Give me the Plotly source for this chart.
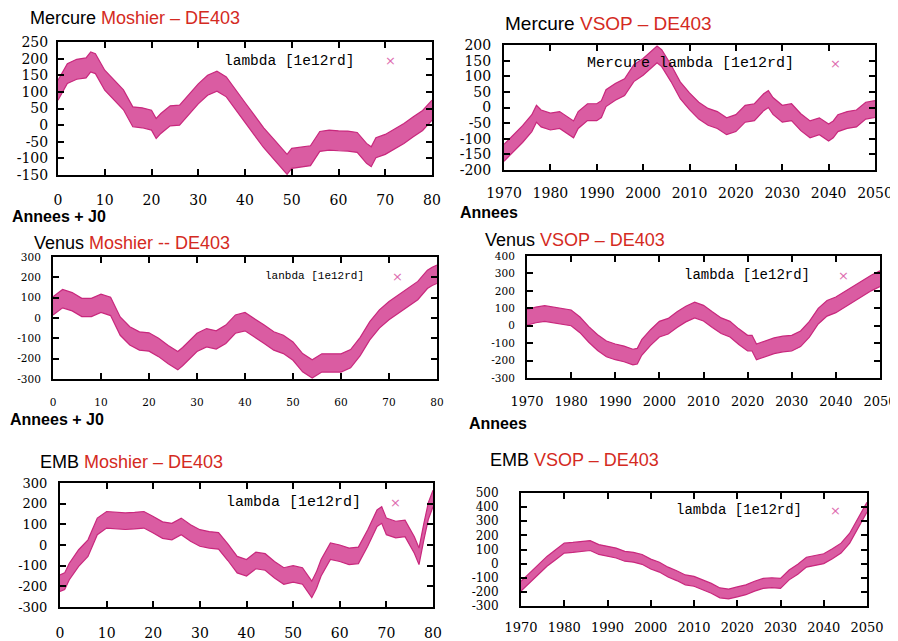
import plotly.graph_objects as go

# The page body has an 8px margin; the figure is sized so that it fills the
# visible 898x641 window exactly, and reference pixel positions are shifted.
WIN_W, WIN_H = 898, 641
OFF = 8
FW, FH = WIN_W - OFF, WIN_H - OFF


def px(x):
    return (x - OFF) / FW


def py(y):
    return 1 - (y - OFF) / FH


# ---------------- data ----------------
# Mercure, Moshier - DE403 (x = years after J0)
merc_mosh_x = [0, 2, 4, 6, 7, 8, 10, 12, 14, 16, 18, 20, 21, 22, 24, 26, 28, 30, 32, 34, 36, 38, 40,
               42, 44, 46, 48, 49, 50, 52, 54, 56, 58, 60, 62, 64, 66, 67, 68, 70, 72, 74, 76, 78, 80]
merc_mosh_y = [105, 155, 168, 172, 190, 185, 135, 105, 76, 25, 22, 15, -10, 5, 28, 30, 63, 94, 120, 132,
               115, 78, 38, 0, -38, -70, -100, -118, -100, -95, -92, -49, -45, -47, -48, -52, -85, -95,
               -68, -58, -42, -25, -5, 14, 45]
merc_mosh_hw = 30

# Mercure, VSOP - DE403 (x = years)
merc_vsop_x = [1970, 1972, 1974, 1976, 1977, 1978, 1980, 1982, 1984, 1985, 1986, 1988, 1990, 1991, 1992,
               1994, 1996, 1998, 2000, 2002, 2003, 2004, 2006, 2008, 2010, 2012, 2014, 2016, 2018, 2020,
               2022, 2024, 2026, 2027, 2028, 2030, 2032, 2034, 2036, 2038, 2040, 2041, 2042, 2044, 2046,
               2048, 2050]
merc_vsop_y = [-145, -115, -85, -50, -20, -35, -45, -40, -60, -70, -40, -15, -15, -5, 30, 50, 65, 110,
               130, 155, 170, 158, 110, 55, 20, -10, -30, -40, -60, -50, -20, -15, 17, 27, 5, -20, -15,
               -47, -70, -60, -80, -70, -50, -40, -35, -10, -5]
merc_vsop_hw = 27

# Venus, Moshier - DE403
ven_mosh_x = [0, 2, 4, 6, 8, 10, 12, 14, 16, 18, 20, 22, 24, 26, 27, 28, 30, 32, 34, 36, 38, 40, 42, 44,
              46, 48, 50, 52, 54, 56, 58, 60, 62, 64, 66, 68, 70, 72, 74, 76, 78, 79, 80]
ven_mosh_y = [60, 95, 80, 52, 52, 72, 57, -40, -88, -113, -118, -145, -180, -210, -190, -165, -120, -97,
              -108, -80, -30, -18, -47, -80, -113, -130, -163, -220, -250, -221, -221, -221, -200, -140,
              -63, -5, 36, 68, 100, 135, 190, 205, 215]
ven_mosh_hw = 45

# Venus, VSOP - DE403
ven_vsop_x = [1970, 1972, 1974, 1976, 1978, 1980, 1982, 1984, 1986, 1988, 1990, 1992, 1994, 1995, 1996,
              1998, 2000, 2002, 2004, 2006, 2008, 2010, 2012, 2014, 2016, 2018, 2020, 2021, 2022, 2024,
              2026, 2028, 2030, 2032, 2034, 2036, 2038, 2040, 2042, 2044, 2046, 2048, 2050]
ven_vsop_y = [48, 62, 70, 62, 53, 45, 5, -50, -97, -133, -150, -162, -180, -175, -125, -68, -20, -3, 35,
              67, 90, 72, 35, 0, -20, -63, -100, -100, -150, -133, -115, -105, -100, -75, -20, 55, 100,
              120, 150, 185, 215, 245, 270]
ven_vsop_hw = 45

# EMB, Moshier - DE403
emb_mosh_x = [0, 1, 2, 4, 6, 8, 10, 12, 14, 16, 18, 20, 22, 24, 26, 28, 30, 32, 34, 36, 38, 40, 42, 44,
              46, 48, 50, 52, 54, 55, 56, 58, 60, 62, 64, 66, 68, 69, 70, 72, 74, 76, 77, 78, 79, 80]
emb_mosh_y = [-185, -175, -128, -63, -15, 90, 122, 118, 115, 118, 122, 98, 72, 65, 90, 58, 34, 25, 20,
              -35, -95, -110, -75, -82, -120, -150, -140, -150, -215, -170, -110, -30, -40, -55, -50, 34,
              130, 145, 90, 75, 80, 0, -55, 60, 165, 225]
emb_mosh_hw = 40

# EMB, VSOP - DE403
emb_vsop_x = [1970, 1972, 1974, 1976, 1978, 1980, 1982, 1984, 1986, 1988, 1990, 1992, 1994, 1996, 1998,
              2000, 2002, 2004, 2006, 2008, 2010, 2012, 2014, 2016, 2018, 2020, 2022, 2024, 2026, 2028,
              2030, 2032, 2034, 2036, 2038, 2040, 2042, 2044, 2046, 2048, 2050]
emb_vsop_y = [-160, -100, -37, 16, 63, 110, 115, 120, 128, 100, 88, 75, 52, 45, 30, -3, -25, -60, -85,
              -115, -125, -150, -175, -207, -215, -200, -185, -160, -140, -135, -140, -80, -40, 10, 20,
              35, 70, 110, 180, 290, 400]
emb_vsop_hw = 35

# tick values
ticks_x_j0 = [0, 10, 20, 30, 40, 50, 60, 70, 80]
ticks_x_years = [1970, 1980, 1990, 2000, 2010, 2020, 2030, 2040, 2050]
ticks_y_merc_mosh = [-150, -100, -50, 0, 50, 100, 150, 200, 250]
ticks_y_merc_vsop = [-200, -150, -100, -50, 0, 50, 100, 150, 200]
ticks_y_ven_mosh = [-300, -200, -100, 0, 100, 200, 300]
ticks_y_ven_vsop = [-300, -200, -100, 0, 100, 200, 300, 400]
ticks_y_emb_mosh = [-300, -200, -100, 0, 100, 200, 300]
ticks_y_emb_vsop = [-300, -200, -100, 0, 100, 200, 300, 400, 500]

legend_label = "lambda [1e12rd]"

# ---------------- layout specs ----------------
RED = "#d42a22"
BAND_FILL = "rgb(218,92,162)"
BAND_LINE = "rgb(200,40,125)"
MARK = "rgb(222,110,175)"

panels = [
    dict(x=merc_mosh_x, y=merc_mosh_y, hw=merc_mosh_hw, xr=[0, 80], yr=[-150, 250],
         xt=ticks_x_j0, yt=ticks_y_merc_mosh, box=(58, 432, 42, 175),
         title=("Mercure", "Moshier – DE403"), tpos=(28, 18), tsize=18,
         leg=legend_label, lpos=(222, 61, 390), lsize=14.5,
         xfs=14, yfs=14, xso=11, yso=5, xlabel=("Annees + J0", 10, 216)),
    dict(x=merc_vsop_x, y=merc_vsop_y, hw=merc_vsop_hw, xr=[1970, 2050], yr=[-200, 200],
         xt=ticks_x_years, yt=ticks_y_merc_vsop, box=(504, 875, 45, 170),
         title=("Mercure", "VSOP – DE403"), tpos=(503, 24), tsize=19,
         leg="Mercure " + legend_label, lpos=(585, 64, 835), lsize=15,
         xfs=14, yfs=14, xso=9, yso=8, xlabel=("Annees", 458, 212)),
    dict(x=ven_mosh_x, y=ven_mosh_y, hw=ven_mosh_hw, xr=[0, 80], yr=[-300, 300],
         xt=ticks_x_j0, yt=ticks_y_ven_mosh, box=(53, 437, 257, 379),
         title=("Venus", "Moshier -- DE403"), tpos=(32, 243), tsize=18,
         leg="lanbda [1e12rd]", lpos=(263, 276, 397), lsize=11,
         xfs=10.5, yfs=10.5, xso=12, yso=8, xlabel=("Annees + J0", 8, 419)),
    dict(x=ven_vsop_x, y=ven_vsop_y, hw=ven_vsop_hw, xr=[1970, 2050], yr=[-300, 400],
         xt=ticks_x_years, yt=ticks_y_ven_vsop, box=(527, 880, 256, 378),
         title=("Venus", "VSOP – DE403"), tpos=(483, 240), tsize=18,
         leg=legend_label, lpos=(682, 275, 843), lsize=14,
         xfs=13, yfs=10.5, xso=10, yso=8, xlabel=("Annees", 467, 423)),
    dict(x=emb_mosh_x, y=emb_mosh_y, hw=emb_mosh_hw, xr=[0, 80], yr=[-300, 300],
         xt=ticks_x_j0, yt=ticks_y_emb_mosh, box=(60, 433, 483, 607),
         title=("EMB", "Moshier – DE403"), tpos=(38, 462), tsize=18,
         leg=legend_label, lpos=(224, 502, 395), lsize=15,
         xfs=14, yfs=13, xso=12, yso=8, xlabel=None),
    dict(x=emb_vsop_x, y=emb_vsop_y, hw=emb_vsop_hw, xr=[1970, 2050], yr=[-300, 500],
         xt=ticks_x_years, yt=ticks_y_emb_vsop, box=(521, 867, 493, 606),
         title=("EMB", "VSOP – DE403"), tpos=(488, 460), tsize=18,
         leg=legend_label, lpos=(674, 510, 835), lsize=14,
         xfs=13, yfs=12, xso=8, yso=18, xlabel=None),
]

fig = go.Figure()
annotations = []
layout_axes = {}

for i, p in enumerate(panels, start=1):
    assert len(p["x"]) == len(p["y"])
    xa = "x" if i == 1 else f"x{i}"
    ya = "y" if i == 1 else f"y{i}"
    lower = [v - p["hw"] for v in p["y"]]
    upper = [v + p["hw"] for v in p["y"]]
    fig.add_trace(go.Scatter(x=p["x"], y=lower, mode="lines", xaxis=xa, yaxis=ya,
                             line=dict(color=BAND_LINE, width=1.2), showlegend=False,
                             hoverinfo="skip"))
    fig.add_trace(go.Scatter(x=p["x"], y=upper, mode="lines", xaxis=xa, yaxis=ya,
                             line=dict(color=BAND_LINE, width=1.2), fill="tonexty",
                             fillcolor=BAND_FILL, showlegend=False, name=p["leg"]))

    l, r, t, b = p["box"]
    axcommon = dict(showline=True, linecolor="black", linewidth=2, mirror="ticks",
                    ticks="inside", ticklen=6, tickwidth=1.5, tickcolor="black",
                    showgrid=False, zeroline=False, automargin=False)
    layout_axes["xaxis" if i == 1 else f"xaxis{i}"] = dict(
        domain=[px(l), px(r)], range=p["xr"], anchor=ya,
        tickvals=p["xt"], ticktext=[str(v) for v in p["xt"]],
        tickfont=dict(family="DejaVu Serif", size=p["xfs"], color="black"),
        ticklabelstandoff=p["xso"], **axcommon)
    layout_axes["yaxis" if i == 1 else f"yaxis{i}"] = dict(
        domain=[py(b), py(t)], range=p["yr"], anchor=xa,
        tickvals=p["yt"], ticktext=[str(v) for v in p["yt"]],
        tickfont=dict(family="DejaVu Serif", size=p["yfs"], color="black"),
        ticklabelstandoff=p["yso"], **axcommon)

    black, red = p["title"]
    annotations.append(dict(
        text=f"{black} <span style='color:{RED}'>{red}</span>",
        xref="paper", yref="paper", x=px(p["tpos"][0]), y=py(p["tpos"][1]),
        xanchor="left", yanchor="middle", showarrow=False,
        font=dict(family="Liberation Sans", size=p["tsize"], color="black")))
    lx, ly, mx = p["lpos"]
    annotations.append(dict(
        text=p["leg"], xref="paper", yref="paper", x=px(lx), y=py(ly),
        xanchor="left", yanchor="middle", showarrow=False,
        font=dict(family="Liberation Mono", size=p["lsize"], color="black")))
    annotations.append(dict(
        text="×", xref="paper", yref="paper", x=px(mx), y=py(ly),
        xanchor="center", yanchor="middle", showarrow=False,
        font=dict(family="DejaVu Sans", size=13, color=MARK)))
    if p["xlabel"]:
        txt, ax_, ay_ = p["xlabel"]
        annotations.append(dict(
            text=f"<b>{txt}</b>", xref="paper", yref="paper", x=px(ax_), y=py(ay_),
            xanchor="left", yanchor="middle", showarrow=False,
            font=dict(family="Liberation Sans", size=16, color="black")))

fig.update_layout(template="none", width=FW, height=FH, margin=dict(l=0, r=0, t=0, b=0),
                  paper_bgcolor="white", plot_bgcolor="white", showlegend=False,
                  annotations=annotations, **layout_axes)

fig.write_html("out.html")
